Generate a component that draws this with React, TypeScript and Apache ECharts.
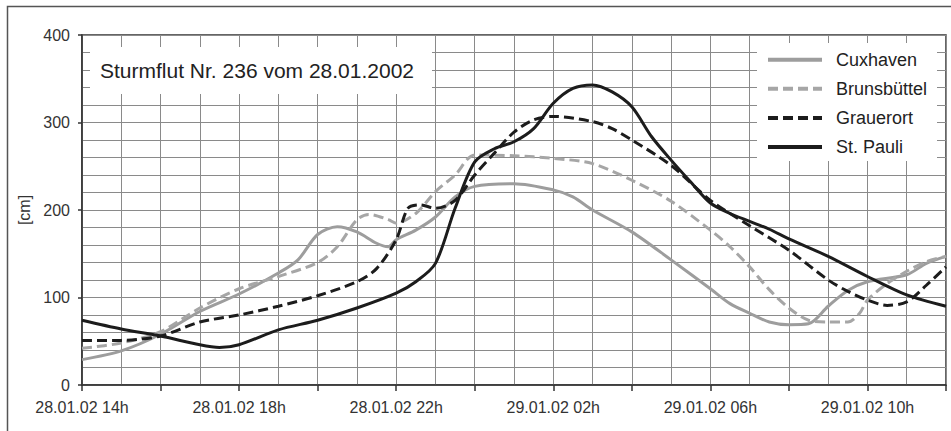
import React, { useEffect, useRef } from "react";
import * as echarts from "echarts";

const FONT = "'Liberation Sans', Arial, Helvetica, sans-serif";

// x = hours since 28.01.02 14h
const X_TICK_LABELS: Record<number, string> = {
  0: "28.01.02 14h",
  4: "28.01.02 18h",
  8: "28.01.02 22h",
  12: "29.01.02 02h",
  16: "29.01.02 06h",
  20: "29.01.02 10h",
};

const SERIES_NAMES = ["Cuxhaven", "Brunsbüttel", "Grauerort", "St. Pauli"];

const CUX_HOURS = [0, 1, 2, 3, 4, 5, 5.5, 6, 6.5, 7, 7.5, 7.8, 8, 8.5, 9, 9.5, 10, 11, 12, 12.5, 13, 14, 15, 16, 16.5, 17, 17.5, 18, 18.5, 19, 19.5, 20, 21, 21.5, 22];
const CUX_VALUES = [29, 39, 58, 84, 104, 128, 143, 172, 181, 175, 162, 158, 166, 177, 192, 215, 227, 230, 223, 215, 200, 175, 143, 110, 93, 82, 72, 69, 70, 90, 108, 118, 126, 139, 147];

const BRU_HOURS = [0, 1, 2, 3, 4, 5, 6, 6.5, 7, 7.3, 7.8, 8, 8.5, 9, 9.5, 10, 11, 12, 13, 14, 15, 16, 16.5, 17, 17.5, 18, 18.5, 19, 19.5, 19.8, 20, 20.5, 21, 21.5, 22];
const BRU_VALUES = [42, 48, 61, 88, 110, 124, 140, 158, 189, 195, 189, 185, 196, 221, 240, 263, 262, 259, 253, 234, 210, 177, 158, 135, 109, 88, 74, 72, 72, 82, 97, 116, 130, 141, 147];

const GRA_HOURS = [0, 1, 2, 3, 4, 5, 6, 7, 7.5, 8, 8.3, 8.6, 9, 9.5, 10, 10.5, 11, 11.5, 12, 13, 13.5, 14, 15, 16, 17, 18, 19, 19.5, 20, 20.5, 21, 21.5, 22];
const GRA_VALUES = [51, 51, 56, 72, 80, 90, 102, 118, 133, 166, 202, 206, 202, 211, 240, 265, 289, 303, 307, 301, 293, 280, 251, 211, 182, 154, 120, 107, 97, 91, 95, 114, 135];

const PAULI_HOURS = [0, 1, 2, 3, 3.5, 4, 5, 6, 7, 8, 8.5, 9, 9.5, 10, 10.5, 11, 11.5, 12, 12.5, 13, 13.5, 14, 14.5, 15, 15.5, 16, 16.5, 17, 17.5, 18, 19, 20, 21, 22];
const PAULI_VALUES = [74, 64, 56, 46, 43, 46, 63, 74, 88, 105, 118, 139, 202, 255, 270, 278, 293, 322, 339, 343, 335, 318, 284, 257, 232, 208, 196, 187, 178, 167, 147, 124, 103, 90];

const zip = (xs: number[], ys: number[]) => xs.map((x, i) => [x, ys[i]]);

export default function App() {
  const ref = useRef<HTMLDivElement>(null);
  useEffect(() => {
    if (!ref.current) return;
    const chart = echarts.init(ref.current, null, { renderer: "svg" });
    const lineSeries = (name: string, data: number[][], color: string, type: any) => ({
      name,
      type: "line",
      data,
      smooth: 0.3,
      symbol: "none",
      showSymbol: false,
      lineStyle: { color, width: 3, type },
      itemStyle: { color },
    });
    chart.setOption({
      animation: false,
      textStyle: { fontFamily: FONT },
      title: {
        text: "Sturmflut Nr. 236 vom 28.01.2002",
        left: 90,
        top: 47,
        backgroundColor: "#fff",
        padding: [13, 18, 13, 10],
        textStyle: { fontSize: 21, fontWeight: "normal", color: "#222", fontFamily: FONT },
      },
      legend: {
        orient: "vertical",
        left: 766,
        top: 50.7,
        padding: 0,
        itemWidth: 54,
        itemHeight: 14,
        itemGap: 11.1,
        itemStyle: { opacity: 0, borderWidth: 0 },
        lineStyle: { width: 4 },
        textStyle: {
          fontSize: 18,
          color: "#222",
          fontFamily: FONT,
          padding: [0, 0, 0, 9],
        },
        data: SERIES_NAMES,
      },
      grid: {
        left: 82,
        top: 35,
        right: 5,
        bottom: 46,
        show: true,
        borderColor: "#333",
        borderWidth: 1.5,
        backgroundColor: "transparent",
      },
      xAxis: {
        type: "value",
        min: 0,
        max: 22,
        interval: 2,
        axisLine: { show: true, onZero: false, lineStyle: { color: "#333", width: 1.5 } },
        axisTick: { show: true, length: 6, lineStyle: { color: "#333", width: 1.5 } },
        minorTick: { show: false, splitNumber: 2 },
        splitLine: { show: true, lineStyle: { color: "#8a8a8a", width: 1 } },
        minorSplitLine: { show: true, lineStyle: { color: "#8a8a8a", width: 1 } },
        axisLabel: {
          margin: 14,
          fontSize: 16,
          color: "#333",
          fontFamily: FONT,
          formatter: (v: number) => X_TICK_LABELS[v] ?? "",
        },
      },
      yAxis: {
        type: "value",
        min: 0,
        max: 400,
        interval: 100,
        name: "[cm]",
        nameLocation: "middle",
        nameGap: 50,
        nameTextStyle: { fontSize: 16, color: "#333", fontFamily: FONT },
        axisLine: { show: true, lineStyle: { color: "#333", width: 1.5 } },
        axisTick: { show: true, length: 4, lineStyle: { color: "#333", width: 1.5 } },
        minorTick: { show: false, splitNumber: 5 },
        splitLine: { show: true, lineStyle: { color: "#8a8a8a", width: 1 } },
        minorSplitLine: { show: true, lineStyle: { color: "#8a8a8a", width: 1 } },
        axisLabel: { margin: 12, fontSize: 16, color: "#333", fontFamily: FONT },
      },
      graphic: [
        {
          type: "rect",
          silent: true,
          shape: { x: 7.5, y: 6.5, width: 1200, height: 1200 },
          style: { fill: "none", stroke: "#555", lineWidth: 1.5 },
          z: 100,
        },
        {
          type: "rect",
          silent: true,
          shape: { x: 757, y: 43, width: 180, height: 118 },
          style: { fill: "#fff" },
          z: 1,
        },
      ],
      series: [
        lineSeries("Cuxhaven", zip(CUX_HOURS, CUX_VALUES), "#9d9d9d", "solid"),
        lineSeries("Brunsbüttel", zip(BRU_HOURS, BRU_VALUES), "#a6a6a6", [10, 5]),
        lineSeries("Grauerort", zip(GRA_HOURS, GRA_VALUES), "#1c1c1c", [10, 5]),
        lineSeries("St. Pauli", zip(PAULI_HOURS, PAULI_VALUES), "#1c1c1c", "solid"),
      ],
    });
    return () => chart.dispose();
  }, []);
  return (
    <div
      ref={ref}
      style={{ position: "fixed", left: 0, top: 0, width: 951, height: 431, background: "#fff" }}
    />
  );
}
